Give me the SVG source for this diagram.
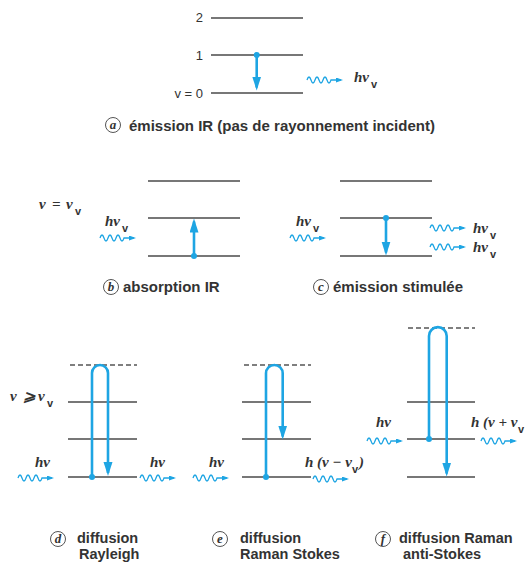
<svg xmlns="http://www.w3.org/2000/svg" width="528" height="562" viewBox="0 0 528 562">
<style>
.lv{stroke:#4a4a4a;stroke-width:1.3;fill:none}
.ds{stroke:#555;stroke-width:1.3;fill:none;stroke-dasharray:5,3}
.ar{stroke:#1ea5e3;stroke-width:2.6;fill:none}
.wv{stroke:#1ea5e3;stroke-width:1.3;fill:none}
.dot{fill:#1ea5e3}
.num{font-family:"Liberation Sans",Arial,sans-serif;font-size:13px;fill:#333}
.cap{font-family:"Liberation Sans",Arial,sans-serif;font-size:15px;font-weight:bold;fill:#333}
.cap2{font-family:"Liberation Sans",Arial,sans-serif;font-size:14.5px;font-weight:bold;fill:#333}
.ph{font-family:"Liberation Serif","Times New Roman",serif;font-size:15px;font-style:italic;font-weight:bold;fill:#333}
.sb{font-family:"Liberation Sans",Arial,sans-serif;font-size:11px;font-weight:bold;fill:#333}
.cl{fill:none;stroke:#555;stroke-width:1}
.cll{font-family:"Liberation Serif","Times New Roman",serif;font-size:13px;font-style:italic;font-weight:bold;fill:#333;text-anchor:middle}
</style>
<defs>
<marker id="ah" markerUnits="userSpaceOnUse" markerWidth="14" markerHeight="10" refX="11" refY="4.5" orient="auto">
<path d="M0,0 L14,4.5 L0,9 z" fill="#1ea5e3"/>
</marker>
<marker id="wh" markerUnits="userSpaceOnUse" markerWidth="7" markerHeight="6" refX="5" refY="2.5" orient="auto">
<path d="M0,0 L7,2.5 L0,5 z" fill="#1ea5e3"/>
</marker>
<path id="wave" d="M0,0 q2,-6 4,0 t4,0 t4,0 t4,0 t4,0 t4,0 l10,0" class="wv" marker-end="url(#wh)"/>
</defs>

<g id="panel-a">
<line class="lv" x1="211" y1="18" x2="303" y2="18"/>
<line class="lv" x1="211" y1="55" x2="303" y2="55"/>
<line class="lv" x1="211" y1="93" x2="303" y2="93"/>
<text class="num" x="203" y="22" text-anchor="end">2</text>
<text class="num" x="203" y="60" text-anchor="end">1</text>
<text class="num" x="203" y="98" text-anchor="end">v = 0</text>
<text class="ph" x="354" y="82">hν</text><text class="sb" x="371" y="88">v</text>
<circle class="cl" cx="113" cy="125" r="7.5"/>
<text class="cll" x="113" y="129">a</text>
<text class="cap" x="129" y="131">émission IR (pas de rayonnement incident)</text>
</g>

<g id="panel-b">
<line class="lv" x1="148" y1="181" x2="240" y2="181"/>
<line class="lv" x1="148" y1="218" x2="240" y2="218"/>
<line class="lv" x1="148" y1="256" x2="240" y2="256"/>
<text class="ph" x="39" y="209">ν</text><text class="ph" x="52" y="209">=</text><text class="ph" x="66" y="209">ν</text><text class="sb" x="75" y="215">v</text>
<text class="ph" x="105" y="226">hν</text><text class="sb" x="122" y="232">v</text>
<circle class="cl" cx="111" cy="287" r="7.5"/>
<text class="cll" x="111" y="291">b</text>
<text class="cap" x="123" y="292">absorption IR</text>
</g>

<g id="panel-c">
<line class="lv" x1="340" y1="181" x2="432" y2="181"/>
<line class="lv" x1="340" y1="218" x2="432" y2="218"/>
<line class="lv" x1="340" y1="256" x2="432" y2="256"/>
<text class="ph" x="296" y="226">hν</text><text class="sb" x="313" y="232">v</text>
<text class="ph" x="473" y="233">hν</text><text class="sb" x="490" y="239">v</text>
<text class="ph" x="473" y="252">hν</text><text class="sb" x="490" y="258">v</text>
<circle class="cl" cx="321" cy="287" r="7.5"/>
<text class="cll" x="321" y="291">c</text>
<text class="cap" x="333" y="292">émission stimulée</text>
</g>

<g id="panel-d">
<line class="ds" x1="70" y1="365" x2="137" y2="365"/>
<line class="lv" x1="68" y1="402" x2="137" y2="402"/>
<line class="lv" x1="68" y1="439" x2="137" y2="439"/>
<line class="lv" x1="68" y1="477" x2="137" y2="477"/>
<text class="ph" x="10" y="401">ν</text><text class="ph" x="23" y="401">⩾</text><text class="ph" x="38" y="401">ν</text><text class="sb" x="47" y="407">v</text>
<text class="ph" x="35" y="467">hν</text>
<text class="ph" x="150" y="467">hν</text>
<circle class="cl" cx="58" cy="539" r="7.5"/>
<text class="cll" x="58" y="543">d</text>
<text class="cap2" x="77" y="543">diffusion</text>
<text class="cap2" x="79" y="559">Rayleigh</text>
</g>

<g id="panel-e">
<line class="ds" x1="244" y1="365" x2="311" y2="365"/>
<line class="lv" x1="242" y1="402" x2="311" y2="402"/>
<line class="lv" x1="242" y1="439" x2="311" y2="439"/>
<line class="lv" x1="242" y1="477" x2="311" y2="477"/>
<text class="ph" x="209" y="467">hν</text>
<text class="ph" x="305" y="467">h (ν − ν</text><text class="sb" x="352" y="473">v</text><text class="ph" x="359" y="467">)</text>
<circle class="cl" cx="220" cy="539" r="7.5"/>
<text class="cll" x="220" y="543">e</text>
<text class="cap2" x="240" y="543">diffusion</text>
<text class="cap2" x="240" y="559">Raman Stokes</text>
</g>

<g id="panel-f">
<line class="ds" x1="408" y1="328" x2="475" y2="328"/>
<line class="lv" x1="407" y1="402" x2="475" y2="402"/>
<line class="lv" x1="407" y1="439" x2="475" y2="439"/>
<line class="lv" x1="407" y1="477" x2="475" y2="477"/>
<text class="ph" x="376" y="427">hν</text>
<text class="ph" x="471" y="427">h (ν + ν</text><text class="sb" x="518" y="433">v</text>
<circle class="cl" cx="383" cy="539" r="7.5"/>
<text class="cll" x="383" y="543">f</text>
<text class="cap2" x="399" y="543">diffusion Raman</text>
<text class="cap2" x="403" y="559">anti-Stokes</text>
</g>

<g id="connectors">
<path class="ar" d="M256.7,55 V87.5" marker-end="url(#ah)"/>
<circle class="dot" cx="256.7" cy="55" r="3"/>
<path class="ar" d="M194,256 V221.5" marker-end="url(#ah)"/>
<circle class="dot" cx="194" cy="256" r="3"/>
<path class="ar" d="M386,218 V252.5" marker-end="url(#ah)"/>
<circle class="dot" cx="386" cy="218" r="3"/>
<path class="ar" d="M92,477 V373 A8,8 0 0 1 108,373 V473" marker-end="url(#ah)"/>
<circle class="dot" cx="92" cy="477" r="3"/>
<path class="ar" d="M266,477 V373.3 A8.35,8.35 0 0 1 282.7,373.3 V436.5" marker-end="url(#ah)"/>
<circle class="dot" cx="266" cy="477" r="3"/>
<path class="ar" d="M429,439 V336 A8.85,8.85 0 0 1 446.7,336 V473.5" marker-end="url(#ah)"/>
<circle class="dot" cx="429" cy="439" r="3"/>
<use href="#wave" x="307" y="80"/>
<use href="#wave" x="100" y="238"/>
<use href="#wave" x="290" y="238"/>
<use href="#wave" x="430" y="228"/>
<use href="#wave" x="430" y="247"/>
<use href="#wave" x="18" y="478"/>
<use href="#wave" x="140" y="478"/>
<use href="#wave" x="193" y="478"/>
<use href="#wave" x="313" y="479"/>
<use href="#wave" x="367" y="441"/>
<use href="#wave" x="481" y="441"/>
</g>
</svg>
